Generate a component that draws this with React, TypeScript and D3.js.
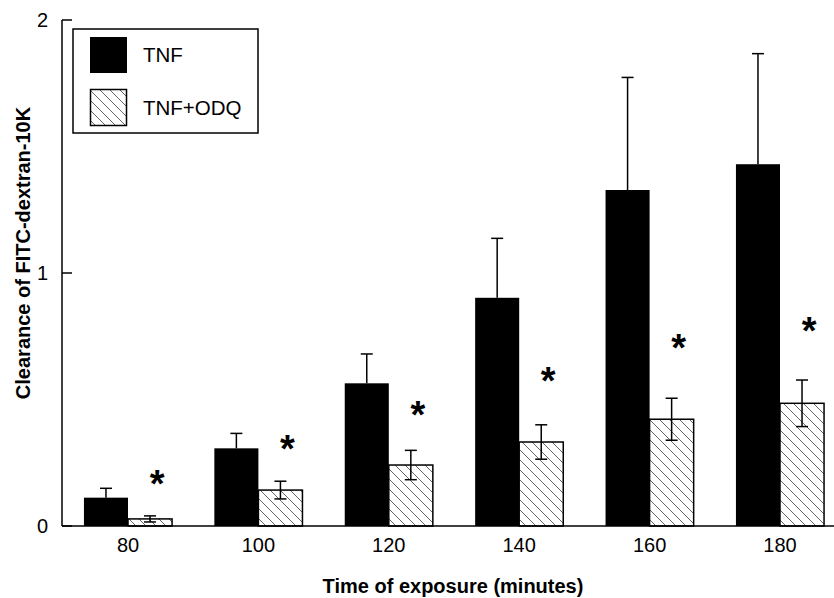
import React from "react";
import * as d3 from "d3";

// time of exposure (minutes)
const times = ["80", "100", "120", "140", "160", "180"];
// TNF alone
const tnfMean = [0.112, 0.307, 0.564, 0.902, 1.328, 1.43];
const tnfSem = [0.037, 0.059, 0.116, 0.235, 0.445, 0.437];
// TNF + ODQ
const odqMean = [0.028, 0.142, 0.241, 0.332, 0.422, 0.485];
const odqSem = [0.012, 0.035, 0.058, 0.068, 0.083, 0.092];
// height of the significance star above each group
const starLevel = [0.198, 0.337, 0.47, 0.605, 0.735, 0.802];
const yTicks = [0, 1, 2];
const series = ["TNF", "TNF+ODQ"];

const W = 834;
const H = 598;
const font = "'Liberation Sans', Arial, Helvetica, sans-serif";

const App = () => {
  const x = d3.scaleBand().domain(times).range([62.8, 845.2]).padding(0);
  const xs = d3
    .scaleBand()
    .domain(series)
    .range([0, x.bandwidth()])
    .paddingInner(0)
    .paddingOuter(0.48);
  const y = d3.scaleLinear().domain([0, 2]).range([526, 20]);
  const bw = xs.bandwidth();
  const cap = 6;

  return (
    <svg
      width={W}
      height={H}
      style={{ position: "fixed", left: 0, top: 0, background: "#fff" }}
      fontFamily={font}
    >
      <defs>
        <pattern
          id="hatch"
          patternUnits="userSpaceOnUse"
          width={10}
          height={10}
        >
          <rect width={10} height={10} fill="#fff" />
          <path d="M-1,-1 L11,11 M-1,9 L1,11 M9,-1 L11,1" stroke="#555" strokeWidth={0.9} />
        </pattern>
      </defs>

      {/* bars */}
      {times.map((t, i) => {
        const x0 = x(t)! + xs("TNF")!;
        const x1 = x(t)! + xs("TNF+ODQ")!;
        const c0 = x0 + bw / 2;
        const c1 = x1 + bw / 2;
        const top0 = y(tnfMean[i] + tnfSem[i]);
        const top1 = y(odqMean[i] + odqSem[i]);
        const low1 = y(odqMean[i] - odqSem[i]);
        return (
          <g key={t}>
            <rect x={x0} y={y(tnfMean[i])} width={bw} height={y(0) - y(tnfMean[i])} fill="#000" />
            <line x1={c0} x2={c0} y1={y(tnfMean[i])} y2={top0} stroke="#000" strokeWidth={1.5} />
            <line x1={c0 - cap} x2={c0 + cap} y1={top0} y2={top0} stroke="#000" strokeWidth={1.5} />

            <rect
              x={x1}
              y={y(odqMean[i])}
              width={bw}
              height={y(0) - y(odqMean[i])}
              fill="url(#hatch)"
              stroke="#000"
              strokeWidth={1.5}
            />
            <line x1={c1} x2={c1} y1={low1} y2={top1} stroke="#000" strokeWidth={1.5} />
            <line x1={c1 - cap} x2={c1 + cap} y1={top1} y2={top1} stroke="#000" strokeWidth={1.5} />
            <line x1={c1 - cap} x2={c1 + cap} y1={low1} y2={low1} stroke="#000" strokeWidth={1.5} />

            <text
              x={c1 + 7}
              y={y(starLevel[i]) + 21}
              textAnchor="middle"
              fontSize={38}
              fontWeight="bold"
            >
              *
            </text>

            <text x={x(t)! + x.bandwidth() / 2} y={552} textAnchor="middle" fontSize={20}>
              {t}
            </text>
          </g>
        );
      })}

      {/* axes */}
      <line x1={62} x2={62} y1={y(2)} y2={y(0)} stroke="#000" strokeWidth={1.5} />
      <line x1={62} x2={W} y1={y(0)} y2={y(0)} stroke="#000" strokeWidth={1.5} />
      {yTicks.map((v) => (
        <g key={v}>
          <line x1={62} x2={72} y1={y(v)} y2={y(v)} stroke="#000" strokeWidth={1.5} />
          <text x={48} y={y(v) + 7} textAnchor="end" fontSize={20}>
            {v}
          </text>
        </g>
      ))}

      {/* legend */}
      <rect x={73} y={29} width={185} height={104} fill="#fff" stroke="#000" strokeWidth={1.5} />
      <rect x={90} y={37} width={37} height={36} fill="#000" />
      <text x={143} y={62} fontSize={20.5}>
        TNF
      </text>
      <rect x={90.5} y={89.5} width={36} height={36} fill="url(#hatch)" stroke="#000" strokeWidth={1.5} />
      <text x={143} y={115} fontSize={20.5}>
        TNF+ODQ
      </text>

      {/* axis titles */}
      <text x={453} y={593} textAnchor="middle" fontSize={20} fontWeight="bold">
        Time of exposure (minutes)
      </text>
      <text
        transform={`translate(30,${y(1) - 20}) rotate(-90)`}
        textAnchor="middle"
        fontSize={20}
        fontWeight="bold"
      >
        Clearance of FITC-dextran-10K
      </text>
    </svg>
  );
};

export default App;
